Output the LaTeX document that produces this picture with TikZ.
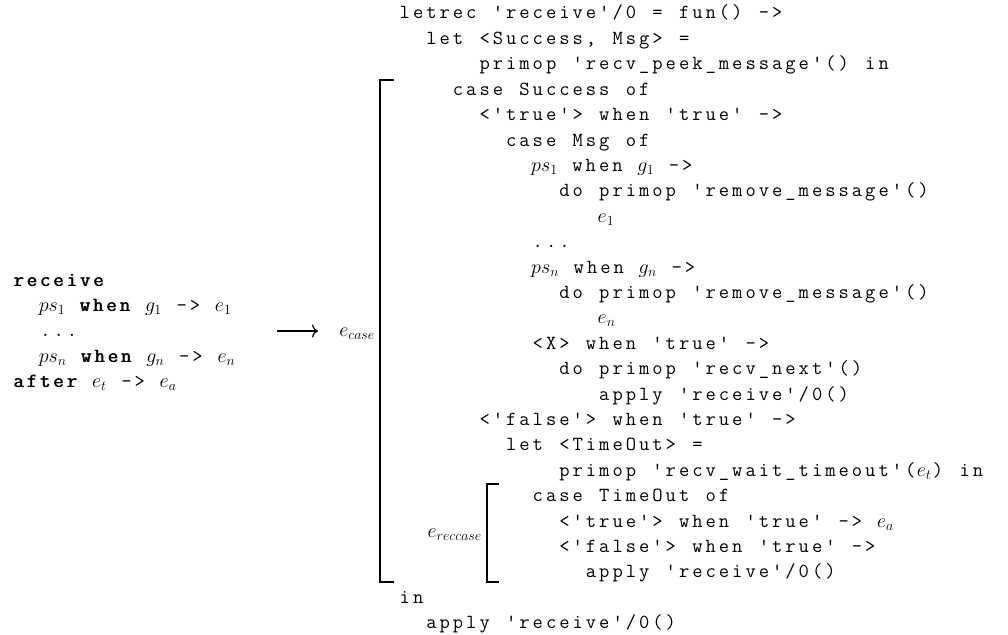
\RequirePackage{fix-cm}
\documentclass[tikz,border=0pt]{standalone}
\usetikzlibrary{arrows.meta}

\makeatletter
\newdimen\codecw
\codecw=13.3pt
\def\code#1{\code@loop#1\code@end}
\def\code@end{code@end}
\def\code@fmt#1{#1}
\def\code@loop{\futurelet\code@next\code@check}
\def\code@check{%
  \ifx\code@next\code@end
    \let\code@do\code@stop
  \else\ifx\code@next\@sptoken
    \let\code@do\code@space
  \else\ifx\code@next\bgroup
    \let\code@do\code@group
  \else
    \let\code@do\code@char
  \fi\fi\fi
  \code@do}
\def\code@stop\code@end{}
\def\code@char#1{\makebox[\codecw]{\code@fmt{#1}}\code@loop}
\def\code@group#1{#1\code@loop}
\@firstofone{\def\code@space} {\hskip\codecw\code@loop}
\def\kw#1{{\def\code@fmt##1{\rlap{##1}\kern.7pt##1}\code{#1}}}
\makeatother
\def\us{\char95 }

\begin{document}
\begin{tikzpicture}[x=1pt,y=-1pt,
    lstline/.style={inner sep=0pt,anchor=base west,font=\fontsize{20}{24}\selectfont\ttfamily},
    mth/.style={inner sep=0pt,font=\fontsize{20}{24}\selectfont},
    brk/.style={line width=1.6pt}]
        \def\rx{398}
        \def\ry{19}
        \def\lx{12}
        \def\ly{286}
        \def\cw{13.3}
        \def\lh{25.4}
        \useasboundingbox (0,0) rectangle (1008,634);

        \node[lstline] (l1) at ({\lx},{\ly}) {\code{{\kw{receive}}}};
        \node[lstline] (l2) at ({\lx+2*\cw},{\ly+\lh}) {\code{{$ps_1$} {\kw{when}} {$g_1$} -> {$e_1$}}};
        \node[lstline] (l3) at ({\lx+2*\cw},{\ly+2*\lh}) {\code{...}};
        \node[lstline] (l4) at ({\lx+2*\cw},{\ly+3*\lh}) {\code{{$ps_n$} {\kw{when}} {$g_n$} -> {$e_n$}}};
        \node[lstline] (l5) at ({\lx},{\ly+4*\lh}) {\code{{\kw{after}} {$e_t$} -> {$e_a$}}};

        \node[lstline] (r1) at ({\rx},{\ry}) {\code{letrec 'receive'/0 = fun() ->}};
        \node[lstline] (r2) at ({\rx+2*\cw},{\ry+\lh}) {\code{let <Success, Msg> =}};
        \node[lstline] (r3) at ({\rx+6*\cw},{\ry+2*\lh}) {\code{primop 'recv\us peek\us message'() in}};
        \node[lstline] (r4) at ({\rx+4*\cw},{\ry+3*\lh}) {\code{case Success of}};
        \node[lstline] (r5) at ({\rx+6*\cw},{\ry+4*\lh}) {\code{<'true'> when 'true' ->}};
        \node[lstline] (r6) at ({\rx+8*\cw},{\ry+5*\lh}) {\code{case Msg of}};
        \node[lstline] (r7) at ({\rx+10*\cw},{\ry+6*\lh}) {\code{{$ps_1$} when {$g_1$} ->}};
        \node[lstline] (r8) at ({\rx+12*\cw},{\ry+7*\lh}) {\code{do primop 'remove\us message'()}};
        \node[lstline] (r9) at ({\rx+15*\cw},{\ry+8*\lh}) {\code{{$e_1$}}};
        \node[lstline] (r10) at ({\rx+10*\cw},{\ry+9*\lh}) {\code{...}};
        \node[lstline] (r11) at ({\rx+10*\cw},{\ry+10*\lh}) {\code{{$ps_n$} when {$g_n$} ->}};
        \node[lstline] (r12) at ({\rx+12*\cw},{\ry+11*\lh}) {\code{do primop 'remove\us message'()}};
        \node[lstline] (r13) at ({\rx+15*\cw},{\ry+12*\lh}) {\code{{$e_n$}}};
        \node[lstline] (r14) at ({\rx+10*\cw},{\ry+13*\lh}) {\code{<X> when 'true' ->}};
        \node[lstline] (r15) at ({\rx+12*\cw},{\ry+14*\lh}) {\code{do primop 'recv\us next'()}};
        \node[lstline] (r16) at ({\rx+15*\cw},{\ry+15*\lh}) {\code{apply 'receive'/0()}};
        \node[lstline] (r17) at ({\rx+6*\cw},{\ry+16*\lh}) {\code{<'false'> when 'true' ->}};
        \node[lstline] (r18) at ({\rx+8*\cw},{\ry+17*\lh}) {\code{let <TimeOut> =}};
        \node[lstline] (r19) at ({\rx+12*\cw},{\ry+18*\lh}) {\code{primop 'recv\us wait\us timeout'({$e_t$}) in}};
        \node[lstline] (r20) at ({\rx+10*\cw},{\ry+19*\lh}) {\code{case TimeOut of}};
        \node[lstline] (r21) at ({\rx+12*\cw},{\ry+20*\lh}) {\code{<'true'> when 'true' -> {$e_a$}}};
        \node[lstline] (r22) at ({\rx+12*\cw},{\ry+21*\lh}) {\code{<'false'> when 'true' ->}};
        \node[lstline] (r23) at ({\rx+14*\cw},{\ry+22*\lh}) {\code{apply 'receive'/0()}};
        \node[lstline] (r24) at ({\rx},{\ry+23*\lh}) {\code{in}};
        \node[lstline] (r25) at ({\rx+2*\cw},{\ry+24*\lh}) {\code{apply 'receive'/0()}};

        \draw[brk] (394,80) -- (380,80) -- (380,582) -- (394,582);
        \draw[brk] (499,484) -- (487,484) -- (487,582) -- (499,582);
        \node[mth,anchor=base east] (ecase) at (375,336) {$e_{case}$};
        \node[mth,anchor=base east] (ereccase) at (482,537) {$e_{reccase}$};

        \coordinate (arrtail) at (277,331);
        \coordinate (arrhead) at (318,331);
        \draw[line width=1.2pt,-{Computer Modern Rightarrow[length=6pt,width=13pt]}] (arrtail) -- (arrhead);
 \end{tikzpicture}
\end{document}
